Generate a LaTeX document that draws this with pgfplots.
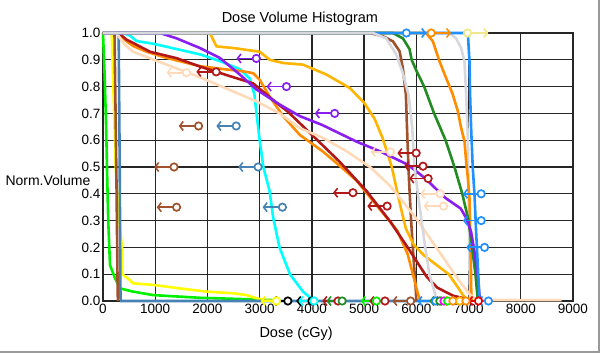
\documentclass[border=0pt]{standalone}
\usepackage{fontspec}
\setmainfont{Liberation Sans}
\usepackage{pgfplots}
\pgfplotsset{compat=1.18}
\usetikzlibrary{arrows.meta}
\definecolor{clime}{RGB}{0,240,0}
\definecolor{cyel}{RGB}{255,255,0}
\definecolor{csienna}{RGB}{160,82,45}
\definecolor{csteel}{RGB}{70,130,180}
\definecolor{ccyan}{RGB}{0,255,255}
\definecolor{cpurple}{RGB}{138,30,240}
\definecolor{camber}{RGB}{255,180,0}
\definecolor{corange}{RGB}{255,140,0}
\definecolor{cred}{RGB}{178,24,24}
\definecolor{cpeach}{RGB}{255,218,185}
\definecolor{cgray}{RGB}{215,215,222}
\definecolor{cgreen}{RGB}{34,139,34}
\definecolor{cblue}{RGB}{30,144,255}
\definecolor{ckhaki}{RGB}{240,230,140}
\definecolor{cmag}{RGB}{255,0,255}
\definecolor{cred2}{RGB}{230,0,0}
\newcommand\lmk[3]{%
  \addplot[draw=#1, line width=1.8bp, -{Straight Barb[length=3.5bp,width=9bp,line width=1.6bp]}, quiver={u=#2,v=0}] coordinates {#3};
  \addplot[only marks, mark=*, mark size=3.7bp, mark options={draw=#1, fill=white, line width=1.7bp}] coordinates {#3};
}
\begin{document}
\begin{tikzpicture}
\path[use as bounding box] (-103bp,-55bp) rectangle (499bp,301bp);
\begin{axis}[
  scale only axis, width=470bp, height=268bp,
  xmin=0, xmax=9000, ymin=0, ymax=1,
  xtick={0,1000,2000,3000,4000,5000,6000,7000,8000,9000},
  ytick={0,0.1,0.2,0.3,0.4,0.5,0.6,0.7,0.8,0.9,1},
  grid=major,
  major grid style={draw=black!85, line width=1.35bp},
  axis line style={draw=black!85, line width=1.35bp},
  tick style={draw=none},
  clip=false,
  /pgf/number format/assume math mode=true,
  ticklabel style={font=\fontsize{13.5bp}{15bp}\selectfont},
  xticklabel style={/pgf/number format/1000 sep={}, yshift=0bp},
  yticklabel style={/pgf/number format/.cd, fixed, fixed zerofill, precision=1, /tikz/.cd, xshift=1bp},
  title={Dose Volume Histogram},
  title style={at={(0.419,1)}, anchor=base, yshift=5bp, font=\fontsize{14.5bp}{17bp}\selectfont},
  xlabel={Dose (cGy)},
  xlabel style={at={(axis description cs:0.411,0)}, anchor=base, yshift=-36bp, font=\fontsize{14.5bp}{17bp}\selectfont},
  ylabel={Norm.Volume},
  ylabel style={rotate=-90, at={(axis description cs:0,0.432)}, anchor=base west, xshift=-101bp, font=\fontsize{14bp}{16bp}\selectfont},
  every axis plot/.append style={line width=2.6bp},
]
% lime
\addplot[draw=clime] coordinates {(0,1)(30,0.85)(60,0.65)(76,0.5)(100,0.3)(134,0.134)(230,0.085)(325,0.047)(575,0.035)(962,0.022)(1855,0.012)(2870,0.006)(3300,0.003)};
% yellow
\addplot[draw=cyel] coordinates {(0,1)(166,1)(205,0.75)(243,0.5)(300,0.32)(363,0.2)(368,0.1)(516,0.078)(575,0.066)(962,0.06)(1472,0.047)(1983,0.035)(2492,0.029)(2747,0.022)(2939,0.01)(3100,0.004)(3300,0)};
% sienna 1
\addplot[draw=csienna] coordinates {(0,1)(220,1)(255,0.5)(280,0.05)(285,0)};
% steel blue
\addplot[draw=csteel] coordinates {(0,1)(300,1)(320,0.5)(335,0.01)(345,0)(7000,0)};
% cyan
\addplot[draw=ccyan] coordinates {(0,1)(380,1)(520,0.99)(640,0.97)(960,0.96)(1410,0.94)(1860,0.92)(2240,0.895)(2620,0.865)(2810,0.83)(2900,0.77)(2940,0.7)(3000,0.6)(3070,0.5)(3190,0.41)(3260,0.31)(3380,0.2)(3580,0.1)(3830,0.035)(4020,0.004)};
% gray 2
\addplot[draw=cgray] coordinates {(0,1)(6635,1)(6762,0.98)(6858,0.944)(6922,0.894)(6954,0.77)(6986,0.608)(7000,0.4)(7020,0.1)(7030,0)};
% dark orange 2
\addplot[draw=corange] coordinates {(0,1)(6188,1)(6316,0.969)(6444,0.894)(6571,0.832)(6699,0.77)(6795,0.708)(6858,0.646)(6922,0.596)(6954,0.521)(6986,0.46)(7018,0.383)(7040,0.2)(7050,0.05)(7060,0)};
% forest green
\addplot[draw=cgreen] coordinates {(0,1)(5551,1)(5742,0.98)(5870,0.94)(5910,0.9)(6000,0.86)(6150,0.8)(6340,0.7)(6560,0.6)(6730,0.5)(6880,0.4)(7000,0.3)(7068,0.2)(7132,0.1)(7165,0.03)(7180,0)};
% sienna 2
\addplot[draw=csienna] coordinates {(0,1)(5105,1)(5360,0.988)(5551,0.969)(5679,0.932)(5742,0.869)(5800,0.77)(5830,0.6)(5860,0.45)(5900,0.3)(5950,0.15)(5990,0.04)(6000,0)};
% amber
\addplot[draw=camber] coordinates {(0,1)(2046,1)(2173,0.95)(2492,0.944)(3002,0.93)(3193,0.9)(3448,0.888)(3830,0.882)(4277,0.845)(4723,0.795)(5000,0.74)(5200,0.68)(5350,0.61)(5450,0.55)(5530,0.5)(5620,0.42)(5700,0.35)(5800,0.27)(5950,0.21)(6150,0.17)(6350,0.14)(6620,0.1)(6800,0.05)(6900,0.02)(7000,0)};
% dark orange 1
\addplot[draw=corange] coordinates {(0,1)(290,1)(453,0.969)(580,0.951)(835,0.93)(1218,0.907)(1855,0.876)(2365,0.864)(2684,0.857)(2875,0.85)(3002,0.825)(3193,0.762)(3448,0.69)(3767,0.62)(4196,0.56)(4500,0.51)(4851,0.45)(5310,0.34)(5637,0.262)(5834,0.175)(5965,0.077)(6030,0.027)(6080,0)};
% firebrick
\addplot[draw=cred] coordinates {(0,1)(300,1)(450,0.975)(575,0.963)(900,0.93)(1409,0.906)(1855,0.875)(2365,0.843)(2875,0.812)(3320,0.74)(3542,0.706)(4000,0.62)(4524,0.521)(5048,0.41)(5506,0.295)(5834,0.2)(6000,0.15)(6200,0.09)(6400,0.05)(6700,0.02)(6950,0.008)(7000,0)};
% peach
\addplot[draw=cpeach] coordinates {(0,1)(260,1)(400,0.96)(575,0.93)(1218,0.882)(1855,0.835)(2492,0.782)(2939,0.745)(3384,0.7)(3767,0.645)(4196,0.61)(4655,0.56)(5113,0.5)(5506,0.428)(5965,0.317)(6423,0.188)(6816,0.077)(7012,0.027)(7150,0.004)(8780,0.003)};
% purple
\addplot[draw=cpurple] coordinates {(0,1)(1090,1)(1409,0.98)(1855,0.944)(2237,0.907)(2620,0.845)(2939,0.789)(3384,0.733)(3767,0.69)(4196,0.657)(4851,0.595)(5310,0.558)(5834,0.509)(6161,0.459)(6554,0.385)(6850,0.345)(6954,0.31)(7049,0.258)(7113,0.184)(7177,0.097)(7208,0.022)(7250,0)};
% dodger blue
\addplot[draw=cblue] coordinates {(0,1)(6986,1)(7018,0.894)(7030,0.77)(7049,0.646)(7081,0.496)(7113,0.4)(7145,0.258)(7177,0.134)(7208,0.01)(7230,0)};
% gray 1
\addplot[draw=cgray] coordinates {(0,1)(5168,1)(5424,0.98)(5615,0.92)(5742,0.85)(5850,0.77)(5920,0.65)(5965,0.5)(6030,0.4)(6100,0.3)(6161,0.213)(6250,0.1)(6358,0.027)(6380,0)};
% constraint markers
\lmk{cpurple}{-380}{(2936,0.905)(3513,0.80)(4436,0.70)}
\lmk{cred}{-380}{(2167,0.855)(4786,0.404)(5441,0.354)}
\lmk{cred}{-360}{(5997,0.552)(6128,0.503)(6226,0.457)}
\lmk{cpeach}{-380}{(1600,0.852)(5506,0.556)(6456,0.40)(6521,0.354)}
\lmk{csienna}{-380}{(1830,0.653)(1360,0.50)(1409,0.35)}
\lmk{csteel}{-380}{(2551,0.653)(2970,0.50)(3436,0.35)}
\lmk{cblue}{-350}{(7242,0.40)(7242,0.30)(7306,0.20)}
\lmk{cblue}{380}{(5810,1)}
\lmk{corange}{380}{(6285,1)}
\lmk{ckhaki}{400}{(6980,1)}
% markers along zero
\lmk{cyel}{-300}{(3320,0)}
\lmk{black}{-300}{(3540,0)(4000,0)}
\lmk{ccyan}{-300}{(4040,0)}
\lmk{cred}{-300}{(4500,0)}
\lmk{cgreen}{-300}{(4580,0)}
\lmk{clime}{-300}{(5236,0)}
\lmk{cred}{-300}{(5400,0)}
\lmk{csienna}{-350}{(5890,0)}
\lmk{cblue}{-350}{(6370,0)}
\lmk{cgreen}{-200}{(6450,0)}
\lmk{cmag}{-200}{(6530,0)}
\lmk{clime}{-200}{(6600,0)}
\lmk{corange}{-200}{(6700,0)}
\lmk{camber}{-200}{(6830,0)}
\lmk{corange}{-200}{(6950,0)}
\lmk{cred2}{-200}{(7190,0)}
\lmk{cblue}{-200}{(7380,0)}
\end{axis}
\draw[draw=black!40, line width=1.3bp] (-103bp,-51bp) -- (496bp,-51bp) -- (496bp,301bp);
\end{tikzpicture}
\end{document}
